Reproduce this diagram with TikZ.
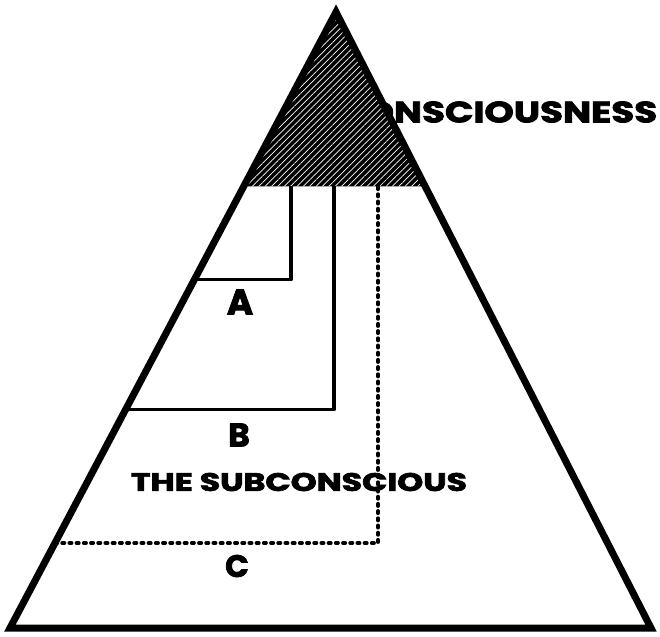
\documentclass[tikz,border=0pt]{standalone}
\usepackage{fontspec}
\setmainfont{Poppins}
\newfontfamily\heavy{Poppins}[BoldFeatures={FakeBold=2.5}]
\usetikzlibrary{patterns.meta,calc}
\begin{document}
\begin{tikzpicture}[x=1pt,y=-1pt,
  outline/.style={line width=7pt,line join=miter},
  level/.style={line width=3.6pt,line join=round},
  dotline/.style={line width=3.8pt,line cap=round,dash pattern=on 2.2pt off 5pt},
  lbl/.style={inner sep=0pt,font=\heavy\bfseries}]
\useasboundingbox[fill=white] (0,0) rectangle (660,636);
\coordinate (apex) at (336,12);
\coordinate (bl) at (10,628);
\coordinate (br) at (651,628);
% conscious text (partly hidden by shading)
\node[lbl,anchor=west] (cons) at (336,112) {\resizebox{321pt}{21pt}{CONSCIOUSNESS}};
% shaded top
\coordinate (sl) at ($(apex)!0.283!(bl)$);
\coordinate (sr) at ($(apex)!0.283!(br)$);
\fill[black] (apex) -- (sl) -- (sr) -- cycle;
\fill[pattern={Lines[angle=45,distance=4.5pt,line width=0.7pt]},pattern color=white] (apex) -- (sl) -- (sr) -- cycle;
% levels
\coordinate (aL) at ($(apex)!0.4345!(bl)$);
\coordinate (aT) at (291,186);
\coordinate (bL) at ($(apex)!0.6456!(bl)$);
\coordinate (bT) at (334,186);
\coordinate (cL) at ($(apex)!0.862!(bl)$);
\coordinate (cT) at (378,186);
\draw[level] (aL) -| (aT);
\draw[level] (bL) -| (bT);
\draw[dotline] (cL) -| (cT);
% outline
\draw[outline] (apex) -- (bl) -- (br) -- cycle;
% labels
\node[lbl] (A) at (240,302) {\resizebox{!}{25pt}{A}};
\node[lbl] (B) at (239,435) {\resizebox{!}{23pt}{B}};
\node[lbl] (C) at (237,566) {\resizebox{!}{22pt}{C}};
\node[lbl] (sub) at (299,482) {\resizebox{336pt}{18pt}{THE SUBCONSCIOUS}};
\end{tikzpicture}
\end{document}
